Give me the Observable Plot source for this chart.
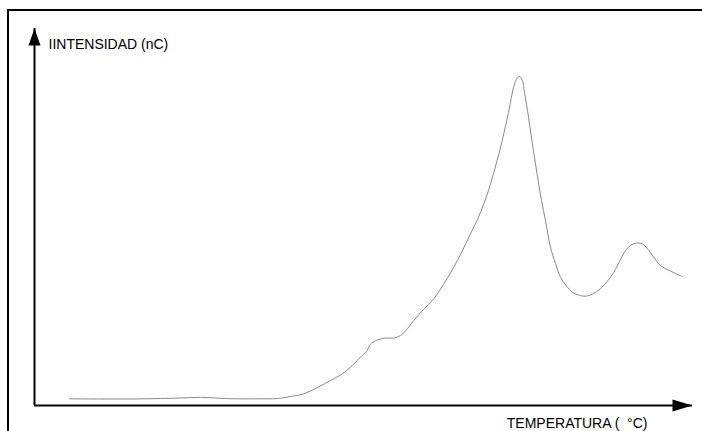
<!DOCTYPE html>
<html>
<head>
<meta charset="utf-8">
<script src="https://cdn.jsdelivr.net/npm/d3@7"></script>
<script src="https://cdn.jsdelivr.net/npm/@observablehq/plot@0.6"></script>
<style>
  html, body { margin: 0; padding: 0; background: #fff; }
  #wrap { position: relative; width: 702px; height: 431px; overflow: hidden; }
  #border { position: absolute; left: 7px; top: 9px; width: 700px; height: 430px;
            border-top: 2px solid #000; border-left: 2px solid #000; box-sizing: border-box; }
  #chart { position: absolute; left: 0; top: 0; }
</style>
</head>
<body>
<div id="wrap"><div id="border"></div><div id="chart"></div></div>
<script>
// Temperature (arbitrary units, axis has no ticks)
const temperature = [35, 66, 96, 126, 146, 166, 181, 196, 221, 243, 256, 269.3, 296, 311, 327.7, 332.7, 336, 342.7, 351, 359.3, 366, 371, 379.3, 389, 399.3, 409, 419.3, 428, 436, 443, 449.3, 454, 459.3, 465.3, 469.3, 474, 479.3, 482.7, 485, 487.7, 490, 493, 497.7, 502.7, 507, 511, 516, 521, 526, 532, 537.7, 544, 551, 558, 566, 573, 579.3, 585, 591, 596, 601, 606, 609, 614.3, 619, 624.3, 628, 632.7, 640, 647.7];
// Intensity (nC, arbitrary units)
const intensity = [6.7, 6.5, 6.5, 7, 7.5, 8.2, 7.5, 6.8, 6.7, 7, 9, 11.7, 25, 34, 50, 55, 61.5, 65.5, 67.5, 67.5, 70, 74.5, 85, 96, 106.7, 121, 138.3, 155, 171.7, 186, 201.7, 215, 233, 255, 272, 293, 319, 327.5, 329, 325.5, 313, 295, 263, 231, 205, 185, 158.3, 142, 128.3, 119.5, 113.3, 110.5, 109.3, 111.5, 116.7, 124.5, 133.3, 144, 155, 160, 162.3, 162.2, 161, 155, 148.5, 141.7, 138.5, 136, 132.5, 129];
const xLabel = "TEMPERATURA (\u00a0 °C)";
const yLabel = "IINTENSIDAD (nC)";
const xMax = 658;
const yMax = 377;

const data = temperature.map((t, i) => ({t, v: intensity[i]}));

// filled arrowhead symbols (tip at origin, body along +y)
const arrowY = { draw(ctx) { ctx.moveTo(0, 0); ctx.lineTo(6, 17); ctx.lineTo(-6, 17); ctx.closePath(); } };
const arrowX = { draw(ctx) { ctx.moveTo(0, 0); ctx.lineTo(6, 20); ctx.lineTo(-6, 20); ctx.closePath(); } };

const font = "'Liberation Sans', Arial, Helvetica, sans-serif";

const chart = Plot.plot({
  width: 702,
  height: 431,
  marginLeft: 34,
  marginRight: 10,
  marginTop: 28,
  marginBottom: 26,
  style: { background: "transparent", fontFamily: font },
  x: { domain: [0, xMax], axis: null },
  y: { domain: [0, yMax], axis: null },
  marks: [
    Plot.line(data, { x: "t", y: "v", stroke: "#8a8a8a", strokeWidth: 1, curve: "catmull-rom" }),
    Plot.ruleX([0], { stroke: "#000", strokeWidth: 2 }),
    Plot.ruleY([0], { stroke: "#000", strokeWidth: 2 }),
    Plot.dot([[0, yMax]], { x: d => d[0], y: d => d[1], symbol: arrowY, fill: "#000", stroke: null }),
    Plot.dot([[xMax, 0]], { x: d => d[0], y: d => d[1], symbol: arrowX, rotate: 90, fill: "#000", stroke: null }),
    Plot.text([yLabel], { text: d => d, frameAnchor: "top-left", dx: 14, dy: 11, textAnchor: "start", lineAnchor: "top", fontSize: 14, fill: "#000" }),
    Plot.text([xLabel], { text: d => d, frameAnchor: "bottom-right", dx: -45, dy: 13, textAnchor: "end", lineAnchor: "top", fontSize: 14, fill: "#000" })
  ]
});
document.getElementById("chart").appendChild(chart);
</script>
</body>
</html>
